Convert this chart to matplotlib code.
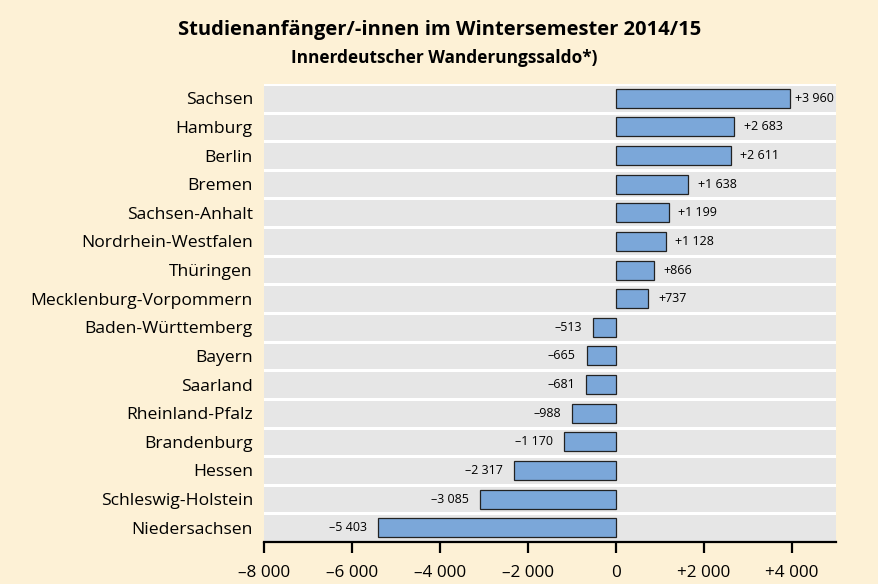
import matplotlib.pyplot as plt
import numpy as np

laender = ["Sachsen", "Hamburg", "Berlin", "Bremen", "Sachsen-Anhalt",
           "Nordrhein-Westfalen", "Thüringen", "Mecklenburg-Vorpommern",
           "Baden-Württemberg", "Bayern", "Saarland", "Rheinland-Pfalz",
           "Brandenburg", "Hessen", "Schleswig-Holstein", "Niedersachsen"]
saldo = [3960, 2683, 2611, 1638, 1199, 1128, 866, 737,
         -513, -665, -681, -988, -1170, -2317, -3085, -5403]
xticks = [-8000, -6000, -4000, -2000, 0, 2000, 4000]


def fmt(v):
    s = f"{abs(v):,}".replace(",", " ")
    if v > 0:
        return "+" + s
    if v < 0:
        return "\u2013" + s
    return s


plt.rcParams['font.family'] = ['Open Sans', 'DejaVu Sans']

bg = '#FDF1D6'
fig = plt.figure(figsize=(8.79, 5.84), dpi=100)
fig.patch.set_facecolor(bg)
ax = fig.add_axes([0.3003, 0.0719, 0.6507, 0.7843])
ax.set_facecolor('#E6E6E6')

n = len(laender)
y = np.arange(n)
ax.barh(y, saldo, height=0.66, color='#7BA7D9', edgecolor='#222222',
        linewidth=0.9, zorder=3)

# weiße Trennlinien zwischen den Zeilen
for yy in np.arange(-0.5, n + 0.5, 1):
    ax.axhline(yy, color='white', linewidth=2.2, zorder=1)

for yi, v in zip(y, saldo):
    if v > 0:
        ax.text(min(v + 220, 4060), yi, fmt(v), ha='left', va='center',
                fontsize=9, zorder=4, clip_on=False)
    else:
        ax.text(v - 250, yi, fmt(v), ha='right', va='center',
                fontsize=9, zorder=4)

ax.set_xlim(-8000, 5000)
ax.set_ylim(n - 0.5, -0.5)
ax.set_yticks(y)
ax.set_yticklabels(laender, fontsize=12.6)
ax.tick_params(axis='y', length=0, pad=8)
ax.set_xticks(xticks)
ax.set_xticklabels([fmt(t) for t in xticks], fontsize=12.3)
ax.tick_params(axis='x', length=8, width=1.6, direction='out', pad=8.5)

for s in ['top', 'right', 'left']:
    ax.spines[s].set_visible(False)
ax.spines['bottom'].set_linewidth(1.6)
ax.spines['bottom'].set_zorder(5)

fig.text(0.5, 0.9486, "Studienanfänger/-innen im Wintersemester 2014/15",
         ha='center', va='center', fontsize=14.5, fontweight='bold')
fig.text(0.505, 0.9007, "Innerdeutscher Wanderungssaldo*)",
         ha='center', va='center', fontsize=12.4, fontweight='bold')

fig.savefig('out.png', dpi=100, facecolor=bg)
